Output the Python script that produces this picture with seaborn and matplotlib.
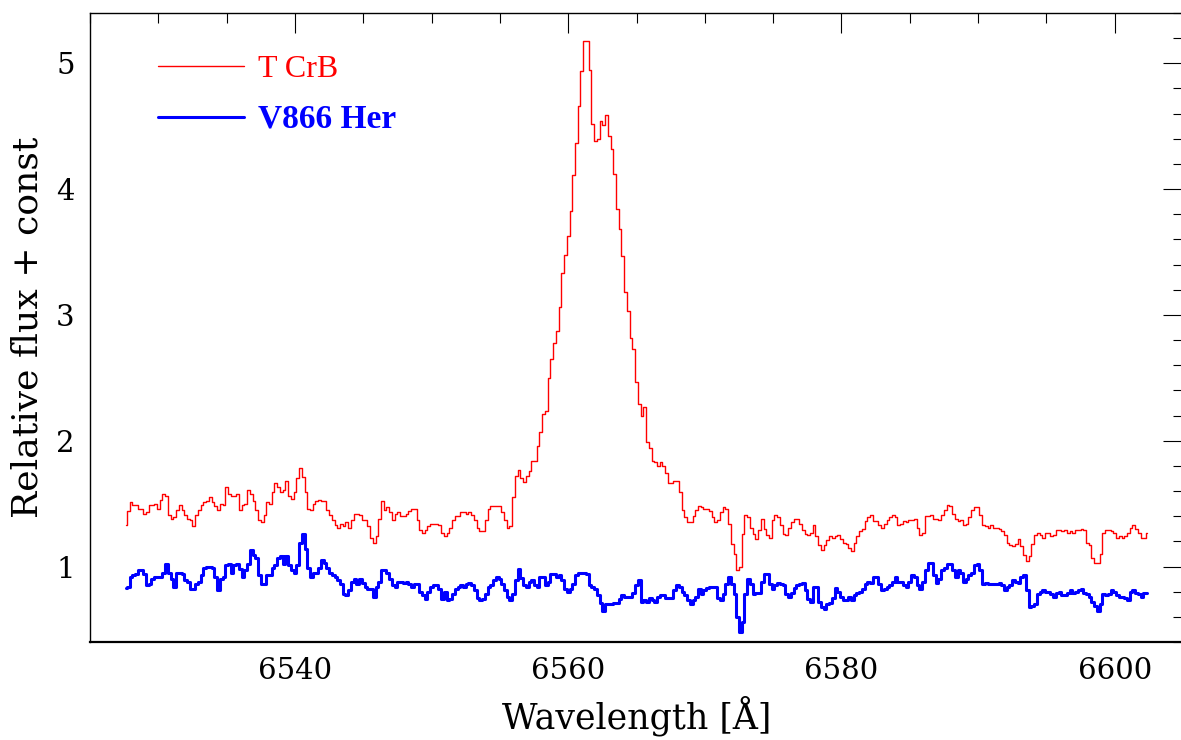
import matplotlib
matplotlib.use("Agg")

import numpy as np
import pandas as pd
import matplotlib.pyplot as plt
import seaborn as sns
from matplotlib.ticker import MultipleLocator

# spectra are binned on a regular grid: first bin centre and bin width in Angstrom
BIN_START = 6527.6
BIN_WIDTH = 0.2

# T CrB, relative flux + const
tcrb_flux = [
    1.33, 1.44, 1.51, 1.49, 1.49, 1.46, 1.46, 1.42, 1.43, 1.49,
    1.49, 1.50, 1.46, 1.53, 1.58, 1.56, 1.41, 1.38, 1.39, 1.45,
    1.49, 1.45, 1.41, 1.38, 1.37, 1.32, 1.41, 1.45, 1.49, 1.51,
    1.52, 1.55, 1.51, 1.48, 1.45, 1.50, 1.49, 1.63, 1.58,
    1.56, 1.56, 1.58, 1.45, 1.49, 1.50, 1.61, 1.58, 1.52, 1.45,
    1.37, 1.35, 1.41, 1.51, 1.50, 1.59, 1.66, 1.63, 1.59, 1.61,
    1.68, 1.56, 1.54, 1.59, 1.70, 1.78, 1.71, 1.59, 1.46, 1.45,
    1.50, 1.52, 1.53, 1.52, 1.52, 1.45, 1.41, 1.37, 1.33, 1.31,
    1.34, 1.32, 1.35, 1.31, 1.37, 1.42, 1.42, 1.41, 1.37,
    1.37, 1.32, 1.23, 1.19, 1.24, 1.38, 1.52, 1.45, 1.47, 1.43,
    # 6547 - 6558
    1.37, 1.42, 1.43, 1.40, 1.40, 1.42, 1.44, 1.46, 1.46, 1.37,
    1.29, 1.27, 1.29, 1.32, 1.34, 1.34, 1.34, 1.33, 1.27, 1.24,
    1.27, 1.31, 1.37, 1.40, 1.40, 1.43, 1.43, 1.42, 1.43, 1.41,
    1.37, 1.31, 1.28, 1.28, 1.37, 1.46, 1.48, 1.48, 1.48, 1.48,
    1.43, 1.37, 1.31, 1.32, 1.55, 1.72, 1.77, 1.70, 1.67, 1.72,
    1.76, 1.84, 1.84, 1.96,
    # H-alpha emission
    2.07, 2.21, 2.24, 2.50, 2.65, 2.78, 2.87, 3.06, 3.33, 3.48,
    3.63, 3.83, 4.11, 4.37, 4.66, 4.94, 5.18, 5.18, 4.95, 4.52,
    4.38, 4.40, 4.54, 4.51, 4.59, 4.42, 4.32, 4.12, 3.84, 3.68,
    3.47,
    3.18, 3.03, 2.82, 2.73, 2.47, 2.29, 2.20, 2.27, 1.99, 1.94,
    1.84, 1.83, 1.80, 1.83, 1.80, 1.74,
    # 6567 - 6586
    1.66, 1.66, 1.68, 1.68, 1.59, 1.45, 1.39, 1.35, 1.35, 1.40,
    1.45, 1.48, 1.47, 1.46, 1.46, 1.44, 1.39, 1.35, 1.37, 1.43,
    1.47, 1.46, 1.34, 1.18, 1.10, 0.97, 1.00, 1.26, 1.41, 1.39,
    1.31, 1.26, 1.22, 1.29, 1.38, 1.30, 1.25, 1.23, 1.37, 1.41,
    1.39, 1.33, 1.26, 1.25, 1.31, 1.35, 1.38, 1.38, 1.34, 1.29,
    1.26, 1.25, 1.27, 1.33, 1.24, 1.17, 1.13, 1.17, 1.21, 1.24,
    1.23, 1.24, 1.25, 1.22, 1.19, 1.18, 1.15, 1.12, 1.19, 1.24,
    1.28, 1.30, 1.36, 1.39, 1.41, 1.36, 1.36, 1.33, 1.31, 1.34,
    1.37, 1.39, 1.41, 1.39, 1.33, 1.34, 1.36, 1.35, 1.37, 1.37,
    1.38, 1.31, 1.25, 1.27, 1.40, 1.40,
    # 6586 - 6602
    1.41, 1.38, 1.38, 1.37, 1.41, 1.45, 1.49, 1.48, 1.42, 1.38,
    1.36, 1.37, 1.33, 1.34, 1.39, 1.45, 1.47, 1.47, 1.41, 1.33,
    1.32, 1.31, 1.33, 1.31, 1.31, 1.30, 1.28, 1.25, 1.19, 1.17,
    1.16, 1.18, 1.22, 1.16, 1.09, 1.04, 1.08, 1.18, 1.25, 1.27,
    1.25, 1.23, 1.27, 1.27, 1.24, 1.25, 1.29, 1.29, 1.28, 1.29,
    1.27, 1.28, 1.27, 1.29, 1.29, 1.30, 1.29, 1.19, 1.17, 1.07,
    1.03, 1.03, 1.10, 1.27, 1.29, 1.29, 1.28, 1.27, 1.23, 1.24,
    1.23, 1.24, 1.27, 1.31, 1.33, 1.30, 1.27, 1.23, 1.23, 1.27,
]

# V866 Her, relative flux + const
v866_flux = [
    0.83, 0.84, 0.92, 0.93, 0.94, 0.97, 0.97, 0.94, 0.85, 0.86,
    0.90, 0.92, 0.92, 0.92, 0.95, 1.02, 0.95, 0.90, 0.84, 0.95,
    0.95, 0.94, 0.89, 0.88, 0.82, 0.82, 0.86, 0.88, 0.93, 0.99,
    1.00, 1.00, 0.99, 0.92, 0.81, 0.90, 0.92, 1.01, 1.02,
    0.95, 1.01, 1.02, 0.98, 0.92, 0.97, 1.02, 1.13, 1.09, 1.07,
    0.93, 0.86, 0.86, 0.93, 0.93, 0.99, 1.01, 1.07, 1.08, 1.02,
    1.08, 1.01, 0.97, 0.95, 1.01, 1.19, 1.26, 1.14, 0.99, 0.92,
    0.95, 0.95, 0.99, 1.05, 1.03, 0.99, 0.95, 0.93, 0.92,
    0.89, 0.86, 0.78, 0.77, 0.81, 0.88, 0.90, 0.86, 0.90, 0.87,
    0.84, 0.82, 0.82, 0.76, 0.84, 0.88, 0.97, 0.97, 0.95, 0.90,
    # 6547 - 6566
    0.85, 0.84, 0.88, 0.88, 0.87, 0.88, 0.86, 0.84, 0.86, 0.86,
    0.80, 0.77, 0.74, 0.80, 0.84, 0.85, 0.85, 0.82, 0.74, 0.80,
    0.73, 0.74, 0.78, 0.82, 0.84, 0.85, 0.84, 0.86, 0.87, 0.85,
    0.81, 0.75, 0.73, 0.74, 0.78, 0.84, 0.85, 0.89, 0.92, 0.90,
    0.86, 0.81, 0.76, 0.73, 0.78, 0.89, 0.98, 0.91, 0.85, 0.84,
    0.88, 0.89, 0.85, 0.84, 0.92, 0.92, 0.85, 0.88, 0.94, 0.94,
    0.92, 0.93, 0.89, 0.82, 0.80, 0.82, 0.86, 0.93, 0.95, 0.95,
    0.95, 0.94, 0.85, 0.84, 0.82, 0.77, 0.71, 0.65, 0.70, 0.70,
    0.70, 0.71, 0.71, 0.74, 0.77, 0.76, 0.76, 0.76, 0.79, 0.85,
    0.89, 0.72, 0.73, 0.72, 0.75, 0.73, 0.72, 0.76,
    # 6566 - 6586
    0.77, 0.77, 0.75, 0.75, 0.75, 0.81, 0.85, 0.84, 0.80, 0.77,
    0.73, 0.70, 0.73, 0.76, 0.82, 0.78, 0.81, 0.83, 0.84, 0.84,
    0.84, 0.75, 0.73, 0.78, 0.86, 0.92, 0.86, 0.78, 0.60, 0.48,
    0.56, 0.78, 0.90, 0.86, 0.78, 0.79, 0.79, 0.88, 0.94, 0.94,
    0.86, 0.82, 0.85, 0.87, 0.86, 0.85, 0.78, 0.76, 0.79, 0.83,
    0.85, 0.86, 0.87, 0.81, 0.74, 0.72, 0.84, 0.84, 0.72, 0.68,
    0.66, 0.70, 0.71, 0.75, 0.83, 0.80, 0.76, 0.73, 0.73, 0.76,
    0.73, 0.77, 0.79, 0.80, 0.82, 0.86, 0.88, 0.87, 0.92, 0.92,
    0.86, 0.81, 0.82, 0.84, 0.85, 0.88, 0.92, 0.88, 0.88, 0.85,
    0.84, 0.88, 0.93, 0.92, 0.85, 0.82, 0.88, 0.97, 1.03,
    # 6586 - 6602
    1.03, 0.93, 0.87, 0.90, 0.97, 0.99, 1.02, 1.02, 0.97, 0.92,
    0.97, 0.95, 0.88, 0.90, 0.93, 0.95, 1.01, 1.02, 0.97, 0.86,
    0.87, 0.86, 0.86, 0.86, 0.86, 0.87, 0.85, 0.81, 0.84, 0.85,
    0.89, 0.88, 0.87, 0.92, 0.93, 0.81, 0.68, 0.69, 0.70, 0.78,
    0.80, 0.81, 0.80, 0.80, 0.78, 0.76, 0.79, 0.80, 0.77, 0.77,
    0.79, 0.81, 0.79, 0.80, 0.81, 0.82, 0.79, 0.78, 0.76, 0.72,
    0.69, 0.65, 0.70, 0.78, 0.77, 0.78, 0.81, 0.80, 0.77, 0.76,
    0.76, 0.75, 0.73, 0.80, 0.81, 0.79, 0.78, 0.76, 0.79, 0.79,
]

star_names = ["T CrB", "V866 Her"]
star_colors = ["#ff0000", "#0000ff"]
star_widths = [1.0, 2.2]


def make_frame(flux, name):
    wl = BIN_START + BIN_WIDTH * np.arange(len(flux))
    return pd.DataFrame({"wavelength": wl, "flux": flux, "star": name})


sns.set_style("white")
plt.rcParams["font.family"] = ["DejaVu Serif"]
plt.rcParams["mathtext.fontset"] = "dejavuserif"
plt.rcParams["text.color"] = "black"
plt.rcParams["axes.labelcolor"] = "black"
plt.rcParams["xtick.color"] = "black"
plt.rcParams["ytick.color"] = "black"

fig = plt.figure(figsize=(11.81, 7.40), dpi=100)
ax = fig.add_axes([90 / 1181, 1 - 642 / 740, 1093 / 1181, 629 / 740])

for flux, name, col, lw in zip([tcrb_flux, v866_flux], star_names, star_colors, star_widths):
    df = make_frame(flux, name)
    sns.lineplot(data=df, x="wavelength", y="flux", ax=ax, color=col,
                 linewidth=lw, drawstyle="steps-mid", estimator=None,
                 label=name)

ax.set_xlim(6525, 6605)
ax.set_ylim(0.4, 5.4)

ax.xaxis.set_major_locator(MultipleLocator(20))
ax.xaxis.set_minor_locator(MultipleLocator(5))
ax.yaxis.set_major_locator(MultipleLocator(1))
ax.yaxis.set_minor_locator(MultipleLocator(0.2))

ax.tick_params(which="both", direction="in", top=True, right=True,
               color="black", labelcolor="black", width=0.8)
ax.tick_params(which="major", length=14.4, labelsize=21, pad=11)
ax.tick_params(which="minor", length=7.2)

for side in ["top", "left", "right"]:
    ax.spines[side].set_linewidth(1.0)
    ax.spines[side].set_color("black")
ax.spines["bottom"].set_linewidth(1.6)
ax.spines["bottom"].set_color("black")

ax.set_xlabel("Wavelength [Å]", fontsize=25, labelpad=7, color="black")
ax.set_ylabel("Relative flux + const", fontsize=26, labelpad=8, color="black")

leg = ax.legend(loc="upper left", bbox_to_anchor=(0.062, 0.934), frameon=False,
                handlelength=2.7, handletextpad=0.45, labelspacing=0.62,
                borderaxespad=0, borderpad=0,
                prop={"family": "Liberation Serif", "size": 23})
for txt, col in zip(leg.get_texts(), star_colors):
    txt.set_color(col)
leg.get_texts()[1].set_fontweight("bold")
leg.get_texts()[1].set_fontsize(24)

fig.savefig("out.png", dpi=100)
